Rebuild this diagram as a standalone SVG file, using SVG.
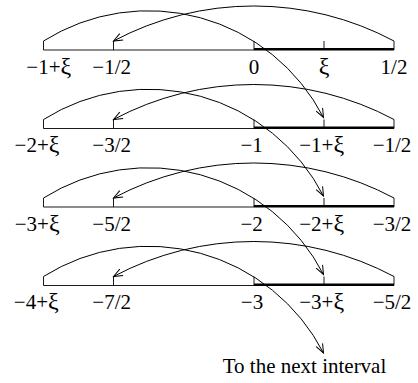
<svg xmlns="http://www.w3.org/2000/svg" width="418" height="383" viewBox="0 0 418 383">
<defs>
<marker id="open" markerUnits="userSpaceOnUse" markerWidth="14" markerHeight="12" viewBox="-12 -6 14 12" refX="0" refY="0" orient="auto">
<path d="M-9,-3.6 L0,0 L-9,3.6" fill="none" stroke="#000" stroke-width="1"/>
</marker>
</defs>
<style>
.thin{stroke:#000;stroke-width:0.9;fill:none}
.thick{stroke:#000;stroke-width:2.6;fill:none}
.arc{stroke:#000;stroke-width:1;fill:none;marker-end:url(#open)}
text{font-family:"Liberation Serif","Times New Roman",serif;font-size:21px;fill:#000;text-anchor:middle}
.x{font-size:24px}
</style>
<rect width="418" height="383" fill="#fff"/>
<g id="row1">
<path class="thin" d="M43.5,50 H254 M43.5,41 V50 M113.5,41 V50 M254,41 V50 M324,41 V50 M394,41 V50"/>
<path class="thick" d="M254,49.3 H394"/>
<text x="48.8" y="73.5">−1+<tspan class="x">ξ</tspan></text><text x="111.7" y="73.5">−1/2</text><text x="254" y="73.5">0</text><text x="324" y="73.5" class="x">ξ</text><text x="394" y="73.5">1/2</text>
</g>
<g id="row2">
<path class="thin" d="M43.5,128.5 H254 M43.5,119.5 V128.5 M113.5,119.5 V128.5 M254,119.5 V128.5 M324,119.5 V128.5 M394,119.5 V128.5"/>
<path class="thick" d="M254,127.8 H394"/>
<text x="37" y="152">−2+<tspan class="x">ξ</tspan></text><text x="111.7" y="152">−3/2</text><text x="251.7" y="152">−1</text><text x="321.7" y="152">−1+<tspan class="x">ξ</tspan></text><text x="392" y="152">−1/2</text>
</g>
<g id="row3">
<path class="thin" d="M43.5,207 H254 M43.5,198 V207 M113.5,198 V207 M254,198 V207 M324,198 V207 M394,198 V207"/>
<path class="thick" d="M254,206.3 H394"/>
<text x="37.2" y="230.5">−3+<tspan class="x">ξ</tspan></text><text x="111.7" y="230.5">−5/2</text><text x="251.7" y="230.5">−2</text><text x="321.7" y="230.5">−2+<tspan class="x">ξ</tspan></text><text x="392" y="230.5">−3/2</text>
</g>
<g id="row4">
<path class="thin" d="M43.5,285.5 H254 M43.5,276.5 V285.5 M113.5,276.5 V285.5 M254,276.5 V285.5 M324,276.5 V285.5 M394,276.5 V285.5"/>
<path class="thick" d="M254,284.8 H394"/>
<text x="36.3" y="309">−4+<tspan class="x">ξ</tspan></text><text x="111.7" y="309">−7/2</text><text x="252" y="309">−3</text><text x="321.7" y="309">−3+<tspan class="x">ξ</tspan></text><text x="392" y="309">−5/2</text>
</g>
<g id="next">
<text x="304.5" y="372.5">To the next interval</text>
</g>
<g id="connectors">
<path class="arc" d="M43.5,41 A197,197 0 0,1 323.5,117.5"/>
<path class="arc" d="M394,41 A298.5,298.5 0 0,0 113.5,41"/>
<path class="arc" d="M43.5,119.5 A197,197 0 0,1 323.5,196"/>
<path class="arc" d="M394,119.5 A298.5,298.5 0 0,0 113.5,119.5"/>
<path class="arc" d="M43.5,198 A197,197 0 0,1 323.5,274.5"/>
<path class="arc" d="M394,198 A298.5,298.5 0 0,0 113.5,198"/>
<path class="arc" d="M43.5,276.5 A197,197 0 0,1 323.5,353"/>
<path class="arc" d="M394,276.5 A298.5,298.5 0 0,0 113.5,276.5"/>
</g>
</svg>
